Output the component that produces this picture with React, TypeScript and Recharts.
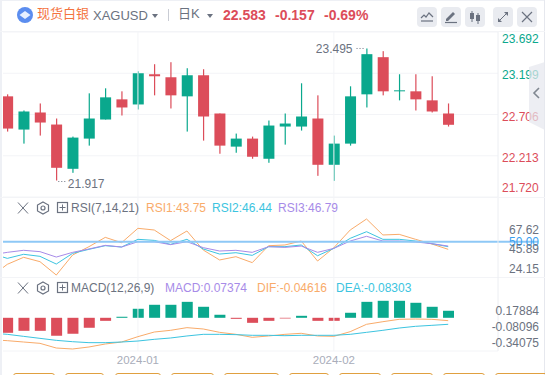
import { Bar, Cell, CartesianGrid, ComposedChart, Line, ReferenceDot, ReferenceLine, XAxis, YAxis } from "recharts";

const FONT = '"Liberation Sans", "Noto Sans CJK SC", sans-serif';
const UP = "#0aa88d";
const DOWN = "#dc4d5a";
const ORANGE = "#f9ab6a";
const CYAN = "#3cc4e0";
const PURPLE = "#a78be8";
const GRAY = "#6b7280";
const GRID = "#f3f4f7";

// first entry of every series sits just off the left edge, only the lines reach into view from it
const idx = [-1, 0, 1, 2, 3, 4, 5, 6, 7, 8, 9, 10, 11, 12, 13, 14, 15, 16, 17, 18, 19, 20, 21, 22, 23, 24, 25, 26, 27];
const opens = [null, 22.923, 22.526, 22.73, 22.586, 22.057, 22.418, 22.646, 22.887, 22.826, 23.187, 23.151, 22.923, 23.175, 22.718, 22.322, 22.418, 22.177, 22.562, 22.562, 22.658, 22.105, 22.358, 22.947, 23.391, 22.983, 22.983, 22.875, 22.718];
const highs = [null, 22.947, 22.754, 22.838, 22.658, 22.442, 22.959, 23.019, 22.983, 23.223, 23.307, 23.331, 23.259, 23.247, 22.718, 22.478, 22.442, 22.634, 22.718, 23.079, 22.935, 22.454, 23.043, 23.495, 23.463, 23.187, 23.187, 23.163, 22.838];
const lows = [null, 22.502, 22.358, 22.454, 21.917, 22.009, 22.334, 22.646, 22.694, 22.766, 22.935, 22.778, 22.502, 22.394, 22.237, 22.249, 22.177, 22.129, 22.346, 22.514, 21.973, 21.913, 22.334, 22.79, 22.935, 22.875, 22.754, 22.73, 22.562];
const closes = [null, 22.538, 22.742, 22.61, 22.069, 22.43, 22.658, 22.911, 22.79, 23.199, 23.163, 22.935, 23.175, 22.682, 22.334, 22.418, 22.201, 22.574, 22.598, 22.682, 22.105, 22.358, 22.923, 23.427, 22.983, 22.995, 22.887, 22.742, 22.583];

const rsi1 = [10.6, 24.5, 32.4, 27.5, 12.4, 35.0, 44.4, 54.9, 48.9, 65.1, 63.2, 51.2, 62.1, 40.6, 29.4, 33.1, 26.4, 45.5, 46.3, 50.8, 28.2, 43.3, 63.2, 75.6, 57.6, 58.3, 52.7, 47.4, 41.4];
const rsi2 = [36.9, 31.2, 35.8, 33.5, 24.8, 36.9, 41.4, 45.5, 44.0, 52.7, 51.5, 47.0, 52.7, 41.8, 36.1, 37.6, 34.6, 44.4, 44.4, 46.3, 34.2, 42.5, 53.8, 61.3, 52.7, 52.7, 50.8, 47.8, 44.4];
const rsi3 = [35.0, 38.0, 40.3, 38.8, 32.7, 38.0, 41.8, 45.9, 44.0, 50.0, 50.0, 46.7, 50.0, 43.3, 39.5, 40.3, 38.0, 44.4, 43.6, 45.1, 38.0, 42.5, 50.8, 56.1, 50.8, 50.8, 49.7, 47.8, 45.1];

const dif = [-0.36, -0.376, -0.398, -0.42, -0.497, -0.513, -0.48, -0.431, -0.398, -0.31, -0.234, -0.206, -0.162, -0.184, -0.239, -0.272, -0.321, -0.299, -0.272, -0.255, -0.299, -0.305, -0.228, -0.107, -0.064, -0.025, -0.02, -0.025, -0.047];
const dea = [-0.25, -0.272, -0.305, -0.338, -0.371, -0.393, -0.409, -0.409, -0.398, -0.382, -0.354, -0.332, -0.299, -0.272, -0.272, -0.277, -0.288, -0.288, -0.294, -0.288, -0.288, -0.288, -0.272, -0.239, -0.206, -0.168, -0.14, -0.124, -0.107];
const hist = [null, -0.158, -0.137, -0.137, -0.189, -0.168, -0.105, -0.032, 0.011, 0.095, 0.137, 0.137, 0.168, 0.116, 0.032, -0.011, -0.053, -0.032, -0.007, 0.021, -0.032, -0.032, 0.053, 0.168, 0.179, 0.179, 0.158, 0.116, 0.074];

const priceTicks = [23.692, 23.199, 22.706, 22.213, 21.72];
const priceTickNudge = [7, 2, 2, 2, -9];
const rsiTicks = [67.62, 50, 45.89, 24.15];
const macdTicks = [0.17884, -0.08096, -0.34075];
const dateTicks = [8, 20];
const dateLabels = ["2024-01", "2024-02"];
const bottomTabs = [[13, 42], [65, 39], [115, 46], [171, 43], [224, 55], [289, 40], [339, 42], [391, 42], [443, 42], [495, 60]];

const rows = idx.map((i, n) => ({
  idx: i,
  open: opens[n],
  high: highs[n],
  low: lows[n],
  close: closes[n],
  rsi1: rsi1[n],
  rsi2: rsi2[n],
  rsi3: rsi3[n],
  dif: dif[n],
  dea: dea[n],
  hist: hist[n],
}));

const X_DOMAIN = [-0.263, 30.05];
const WIDTH = 542;

function Candle(props: any) {
  const { x, y, width, height, payload } = props;
  if (payload.high == null) return null;
  const unit = height / (payload.high - payload.low);
  const up = payload.close >= payload.open;
  const color = up ? UP : DOWN;
  const top = y + (payload.high - Math.max(payload.open, payload.close)) * unit;
  const h = Math.max(1, Math.abs(payload.open - payload.close) * unit);
  const cx = x + width / 2;
  return (
    <g>
      <rect x={cx - 0.6} y={y} width={1.2} height={height} fill={color} />
      <rect x={cx - 5.5} y={top} width={11} height={h} fill={color} />
    </g>
  );
}

function PriceTick(props: any) {
  const { y, payload, index } = props;
  return (
    <text x={499} y={y + priceTickNudge[index] + 4} fontSize={12} fontFamily={FONT} fill={index < 2 ? UP : DOWN}>
      {payload.value.toFixed(3)}
    </text>
  );
}

function RsiTick(props: any) {
  const { y, payload } = props;
  const isMid = payload.value === 50;
  return (
    <text x={536} y={y + (isMid ? 4 : 8)} textAnchor="end" fontSize={12} fontFamily={FONT} fill={isMid ? "#3aa0f0" : GRAY}>
      {payload.value.toFixed(2)}
    </text>
  );
}

function MacdTick(props: any) {
  const { y, payload } = props;
  return (
    <text x={536} y={y + 8} textAnchor="end" fontSize={12} fontFamily={FONT} fill={GRAY}>
      {payload.value.toFixed(5)}
    </text>
  );
}

function DateTick(props: any) {
  const { x, y, index } = props;
  return (
    <text x={x} y={y + 5} textAnchor="middle" fontSize={11.5} fontFamily={FONT} fill="#a9adba">
      {dateLabels[index]}
    </text>
  );
}

function ExtremeLabel(props: any) {
  const { cx, cy, side, value } = props;
  const left = side === "left";
  return (
    <g fontFamily={FONT} fill={GRAY} fontSize={12}>
      <path d={left ? `M${cx - 10} ${cy}h9` : `M${cx + 2} ${cy + 1}h8`} stroke={GRAY} strokeWidth={1} strokeDasharray="1 2" />
      <text x={left ? cx - 14 : cx + 11.5} y={cy + (left ? 5 : 7)} textAnchor={left ? "end" : "start"}>
        {value}
      </text>
    </g>
  );
}

function Label({ x, y, color, size = 12, bold, children }: any) {
  return (
    <span
      style={{
        position: "absolute",
        left: x,
        top: y,
        lineHeight: "16px",
        whiteSpace: "nowrap",
        fontSize: size,
        fontWeight: bold ? 700 : 400,
        color,
      }}
    >
      {children}
    </span>
  );
}

function IconButton({ x, children }: any) {
  return (
    <div style={{ position: "absolute", left: x, top: 7, width: 20, height: 20, borderRadius: 4, background: "#e9ebf0" }}>
      <svg width={20} height={20} style={{ display: "block" }}>
        {children}
      </svg>
    </div>
  );
}

function Caret({ x }: any) {
  return (
    <svg width={7} height={4} style={{ position: "absolute", left: x, top: 14 }}>
      <path d="M0 0h6l-3 4z" fill={GRAY} />
    </svg>
  );
}

function PanelIcons({ y }: any) {
  return (
    <svg width={56} height={14} style={{ position: "absolute", left: 16, top: y }}>
      <path d="M2 1.5l10 11M12 1.5l-10 11" stroke={GRAY} strokeWidth={1} fill="none" />
      <path d="M27 1l5.5 3v6l-5.5 3-5.5-3v-6z" stroke={GRAY} strokeWidth={1.2} fill="none" />
      <circle cx={27} cy={7} r={2} stroke={GRAY} strokeWidth={1.2} fill="none" />
      <rect x={41.5} y={1.5} width={10} height={10} stroke={GRAY} strokeWidth={1.2} fill="none" />
      <path d="M46.5 3.5v6M43.5 6.5h6" stroke={GRAY} strokeWidth={1} />
    </svg>
  );
}

export default function App() {
  return (
    <div style={{ position: "absolute", left: 0, top: 0, width: 545, height: 375, overflow: "hidden", background: "#fff", fontFamily: FONT }}>
      {/* header */}
      <svg width={18} height={18} style={{ position: "absolute", left: 16, top: 6 }}>
        <circle cx={9} cy={9} r={8} fill="#5b8def" />
        <path d="M3.5 9l5.5-4 5.5 4-5.5 4z" fill="#e8f0ff" />
      </svg>
      <Label x={37} y={6} size={13} color="#f4733f">现货白银</Label>
      <Label x={93} y={8} size={13} color={GRAY}>XAGUSD</Label>
      <Caret x={152} />
      <div style={{ position: "absolute", left: 168, top: 9, width: 1, height: 12, background: "#c9ccd4" }} />
      <Label x={178} y={6} size={13} color={GRAY}>日K</Label>
      <Caret x={207} />
      <Label x={223} y={7} size={14} bold color={DOWN}>22.583</Label>
      <Label x={275} y={7} size={14} bold color={DOWN}>-0.157</Label>
      <Label x={324} y={7} size={14} bold color={DOWN}>-0.69%</Label>

      <IconButton x={417}>
        <path d="M4 11l3-3 2 2 3-4 4 4" stroke={GRAY} strokeWidth={1.2} fill="none" />
        <path d="M4 14h12" stroke={GRAY} strokeWidth={1.2} />
      </IconButton>
      <IconButton x={441}>
        <path d="M5 12l7-7 2 2-7 7h-2z" fill={GRAY} />
        <path d="M4 15.5h12" stroke={GRAY} strokeWidth={1.2} />
      </IconButton>
      <IconButton x={465}>
        <path d="M7 4v11M13 6v11" stroke={GRAY} strokeWidth={1} />
        <rect x={5} y={6} width={4} height={6} fill={GRAY} />
        <rect x={11} y={8} width={4} height={6} fill={GRAY} />
      </IconButton>
      <IconButton x={493}>
        <path d="M6 14l8-8" stroke={GRAY} strokeWidth={1} />
        <path d="M11 5h4v4zM5 11v4h4z" fill={GRAY} />
      </IconButton>
      <IconButton x={517}>
        <path d="M5 5l10 10M15 5l-10 10" stroke={GRAY} strokeWidth={1.2} />
      </IconButton>

      {/* frame */}
      <div style={{ position: "absolute", left: 0, top: 0, width: 2, height: 375, background: "#eef0f5" }} />
      <div style={{ position: "absolute", left: 0, top: 0, width: 545, height: 1, background: "#eef0f5" }} />
      <div style={{ position: "absolute", left: 544, top: 0, width: 1, height: 375, background: "#e6e8ee" }} />
      <div style={{ position: "absolute", left: 0, top: 31, width: 545, height: 1, background: GRID }} />

      {/* candles */}
      <div style={{ position: "absolute", left: 3, top: 32, width: WIDTH, height: 165, overflow: "hidden" }}>
        <ComposedChart width={WIDTH} height={165} data={rows} margin={{ top: 0, right: 0, bottom: 0, left: 0 }}>
          <CartesianGrid vertical={false} stroke={GRID} />
          <XAxis dataKey="idx" type="number" domain={X_DOMAIN} hide allowDataOverflow />
          <YAxis
            orientation="right"
            width={47}
            domain={[21.72, 23.692]}
            ticks={priceTicks}
            interval={0}
            tick={<PriceTick />}
            tickLine={false}
            axisLine={{ stroke: "#eceef2" }}
            allowDataOverflow
          />
          <ReferenceLine x={8} stroke={GRID} />
          <ReferenceLine x={20} stroke={GRID} />
          <Bar dataKey={(d: any) => (d.high == null ? null : [d.low, d.high])} barSize={11} shape={<Candle />} isAnimationActive={false} />
          <ReferenceDot x={3} y={21.917} r={0} ifOverflow="visible" shape={<ExtremeLabel side="right" value="21.917" />} />
          <ReferenceDot x={22} y={23.495} r={0} ifOverflow="visible" shape={<ExtremeLabel side="left" value="23.495" />} />
        </ComposedChart>
      </div>

      <div style={{ position: "absolute", left: 0, top: 197, width: 545, height: 1, background: GRID }} />

      {/* RSI */}
      <div style={{ position: "absolute", left: 3, top: 198, width: WIDTH, height: 79, overflow: "hidden" }}>
        <ComposedChart width={WIDTH} height={79} data={rows} margin={{ top: 0, right: 0, bottom: 0, left: 0 }}>
          <XAxis dataKey="idx" type="number" domain={X_DOMAIN} hide allowDataOverflow />
          <YAxis
            orientation="right"
            width={47}
            domain={[10.2, 99.3]}
            ticks={rsiTicks}
            interval={0}
            tick={<RsiTick />}
            tickLine={false}
            axisLine={{ stroke: "#eceef2" }}
            allowDataOverflow
          />
          <ReferenceLine x={8} stroke={GRID} />
          <ReferenceLine x={20} stroke={GRID} />
          <Line dataKey="rsi1" stroke={ORANGE} strokeWidth={1} dot={false} isAnimationActive={false} />
          <Line dataKey="rsi2" stroke={CYAN} strokeWidth={1} dot={false} isAnimationActive={false} />
          <Line dataKey="rsi3" stroke={PURPLE} strokeWidth={1} dot={false} isAnimationActive={false} />
          <ReferenceLine
            ifOverflow="visible"
            segment={[{ x: -0.263, y: 50 }, { x: 32.5, y: 50 }]}
            stroke="#8ec8f6"
            strokeWidth={2}
          />
        </ComposedChart>
      </div>

      <div style={{ position: "absolute", left: 0, top: 277, width: 545, height: 1, background: GRID }} />

      {/* MACD */}
      <div style={{ position: "absolute", left: 3, top: 277, width: WIDTH, height: 98, overflow: "hidden" }}>
        <ComposedChart width={WIDTH} height={98} data={rows} margin={{ top: 0, right: 0, bottom: 0, left: 0 }}>
          <XAxis
            dataKey="idx"
            type="number"
            domain={X_DOMAIN}
            ticks={dateTicks}
            interval={0}
            height={24}
            tick={<DateTick />}
            tickLine={false}
            axisLine={{ stroke: GRID }}
            allowDataOverflow
          />
          <YAxis
            yAxisId="line"
            orientation="right"
            width={47}
            domain={[-0.546, 0.671]}
            ticks={macdTicks}
            interval={0}
            tick={<MacdTick />}
            tickLine={false}
            axisLine={{ stroke: "#eceef2" }}
            allowDataOverflow
          />
          <YAxis yAxisId="hist" hide domain={[-0.3495, 0.4295]} allowDataOverflow />
          <ReferenceLine yAxisId="line" x={8} stroke={GRID} />
          <ReferenceLine yAxisId="line" x={20} stroke={GRID} />
          <Bar yAxisId="hist" dataKey="hist" barSize={11} isAnimationActive={false}>
            {rows.map((r) => (
              <Cell key={r.idx} fill={(r.hist ?? 0) >= 0 ? UP : DOWN} />
            ))}
          </Bar>
          <Line yAxisId="line" dataKey="dif" stroke={ORANGE} strokeWidth={1} dot={false} isAnimationActive={false} />
          <Line yAxisId="line" dataKey="dea" stroke={CYAN} strokeWidth={1} dot={false} isAnimationActive={false} />
        </ComposedChart>
      </div>

      {/* panel legends */}
      <PanelIcons y={201} />
      <Label x={71} y={200} color={GRAY}>RSI(7,14,21)</Label>
      <Label x={146} y={200} color={ORANGE}>RSI1:43.75</Label>
      <Label x={212} y={200} color={CYAN}>RSI2:46.44</Label>
      <Label x={278} y={200} color={PURPLE}>RSI3:46.79</Label>

      <PanelIcons y={281} />
      <Label x={71} y={280} color={GRAY}>MACD(12,26,9)</Label>
      <Label x={165} y={280} color={PURPLE}>MACD:0.07374</Label>
      <Label x={257} y={280} color={ORANGE}>DIF:-0.04616</Label>
      <Label x={336} y={280} color={CYAN}>DEA:-0.08303</Label>

      {/* side tab */}
      <svg width={16} height={70} style={{ position: "absolute", left: 529, top: 62, opacity: 0.7 }}>
        <path d="M0 5L16 0V68L0 60z" fill="#e6e8ee" />
        <path d="M10 26l-5 5 5 5" stroke="#4b5563" strokeWidth={1.6} fill="none" />
      </svg>

      {/* cut off buttons below the chart */}
      {bottomTabs.map(([x, w]) => (
        <div
          key={x}
          style={{
            position: "absolute",
            left: x,
            top: 373,
            width: w,
            height: 10,
            boxSizing: "border-box",
            border: "1px solid #e0a040",
            borderRadius: 3,
          }}
        />
      ))}
    </div>
  );
}
